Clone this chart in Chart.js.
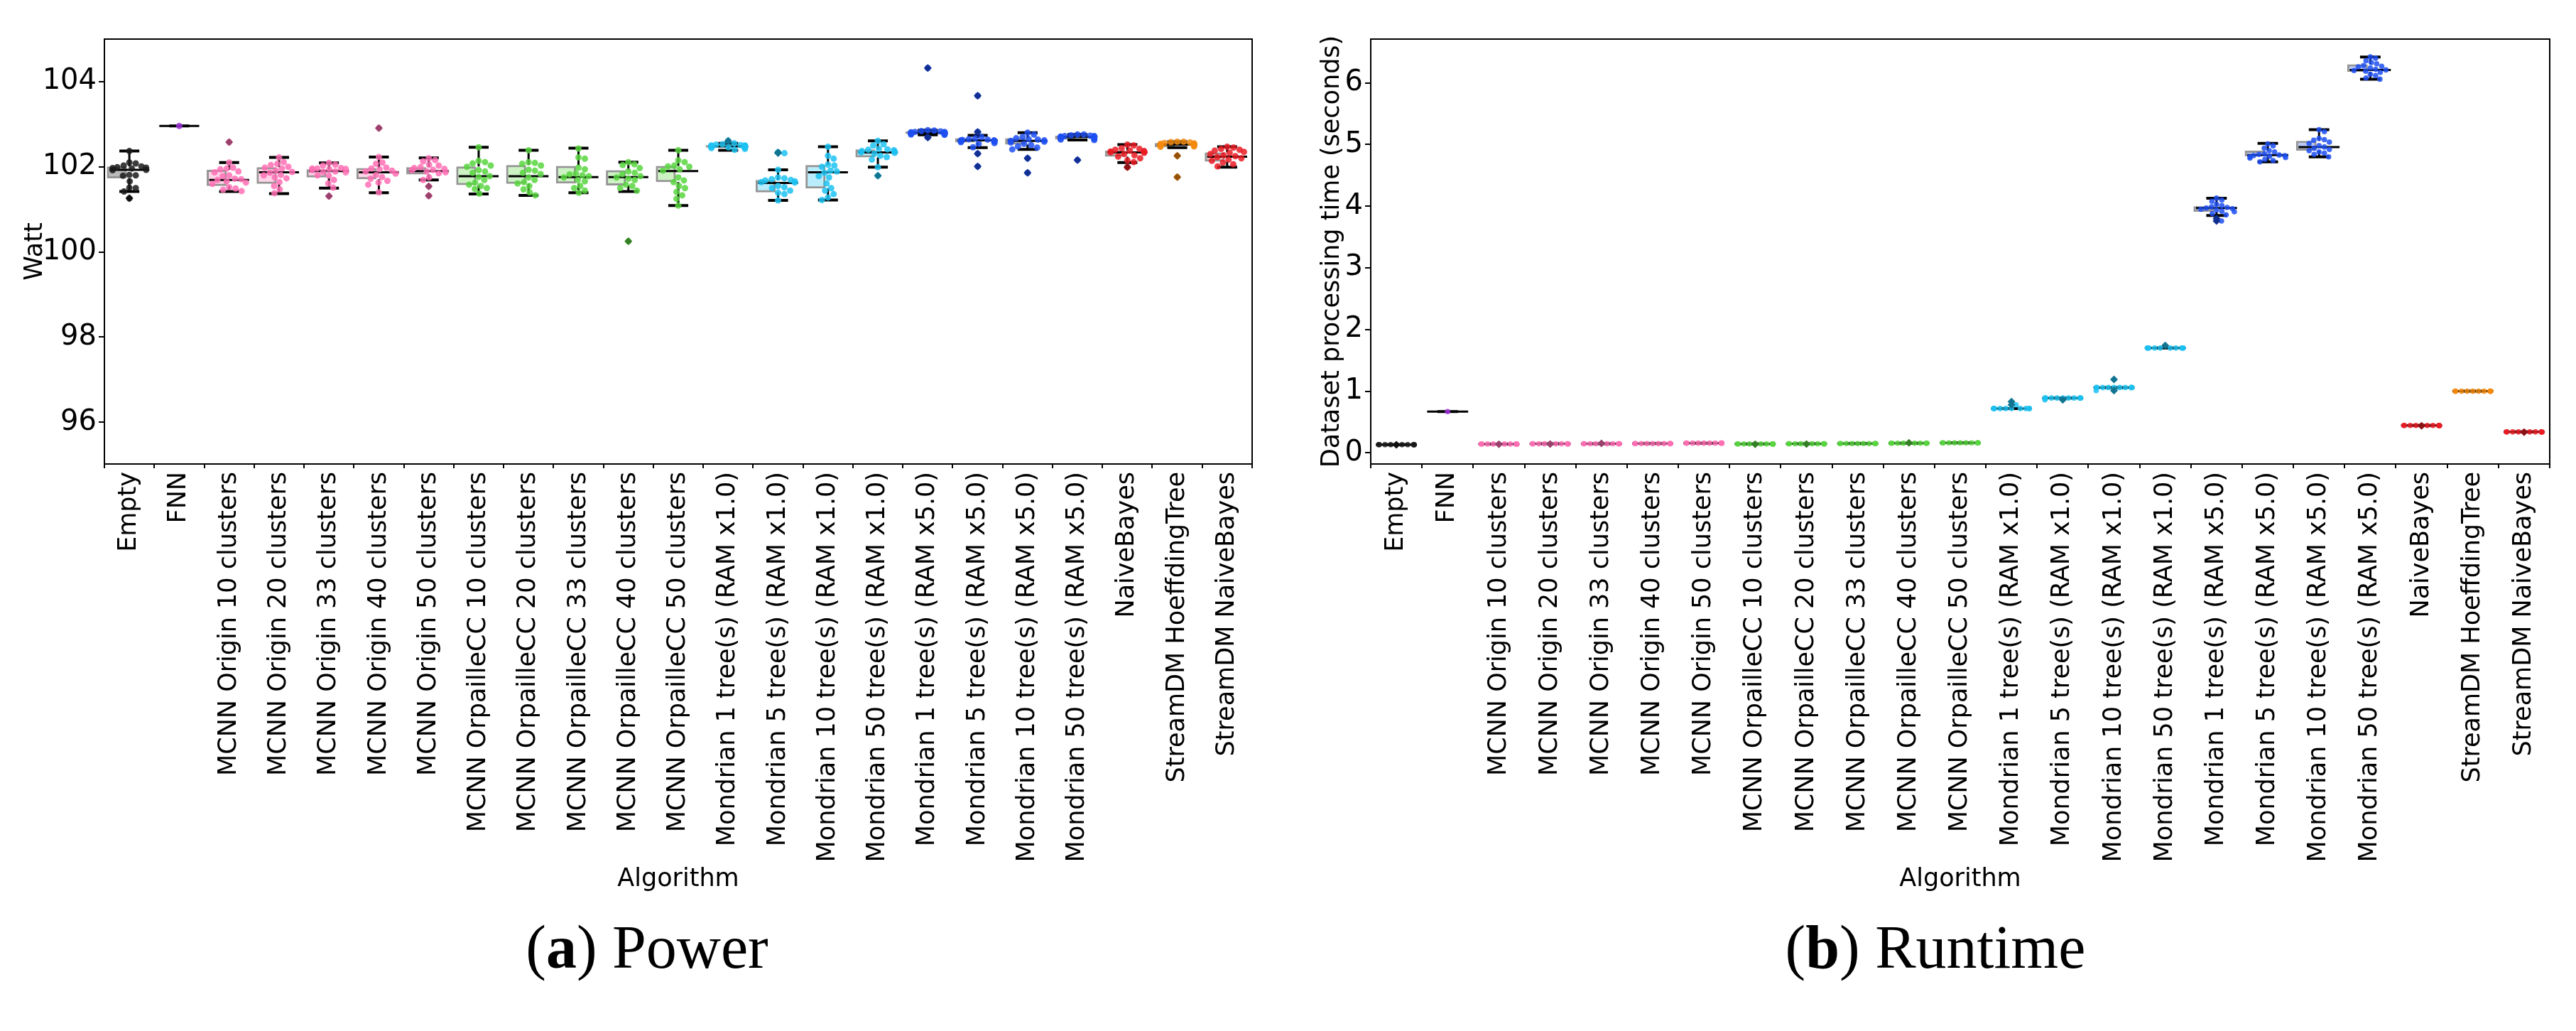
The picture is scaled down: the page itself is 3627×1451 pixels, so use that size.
<!DOCTYPE html>
<html>
<head>
<meta charset="utf-8">
<script src="https://cdn.jsdelivr.net/npm/chart.js@4.4.1/dist/chart.umd.min.js"></script>
<style>
  body { margin: 0; background: #fff; width: 3627px; height: 1451px; position: relative; overflow: hidden; }
  .panel { position: absolute; top: 0; height: 1300px; }
  .cap { position: absolute; top: 1290px; font-family: "Liberation Serif", serif; font-size: 86px; line-height: 86px; text-align: center; color: #000; }
</style>
</head>
<body>
<div class="panel" style="left:0;width:1800px"><canvas id="power"></canvas></div>
<div class="panel" style="left:1800px;width:1827px"><canvas id="runtime"></canvas></div>
<div class="cap" style="left:0;width:1822px">(<b>a</b>) Power</div>
<div class="cap" style="left:1823px;width:1804px">(<b>b</b>) Runtime</div>
<script>
// categories
const algorithms = [
  "Empty", "FNN",
  "MCNN Origin 10 clusters", "MCNN Origin 20 clusters", "MCNN Origin 33 clusters",
  "MCNN Origin 40 clusters", "MCNN Origin 50 clusters",
  "MCNN OrpailleCC 10 clusters", "MCNN OrpailleCC 20 clusters", "MCNN OrpailleCC 33 clusters",
  "MCNN OrpailleCC 40 clusters", "MCNN OrpailleCC 50 clusters",
  "Mondrian 1 tree(s) (RAM x1.0)", "Mondrian 5 tree(s) (RAM x1.0)",
  "Mondrian 10 tree(s) (RAM x1.0)", "Mondrian 50 tree(s) (RAM x1.0)",
  "Mondrian 1 tree(s) (RAM x5.0)", "Mondrian 5 tree(s) (RAM x5.0)",
  "Mondrian 10 tree(s) (RAM x5.0)", "Mondrian 50 tree(s) (RAM x5.0)",
  "NaiveBayes", "StreamDM HoeffdingTree", "StreamDM NaiveBayes"
];

// power (Watt): box statistics
const powerHi  = [102.37, 102.96, 102.10, 102.22, 102.09, 102.23, 102.21, 102.46, 102.39, 102.44, 102.11, 102.39, 102.55, 101.93, 102.47, 102.61, 102.86, 102.74, 102.80, 102.76, 102.52, 102.59, 102.47];
const powerQ3  = [102.01, 102.96, 101.93, 101.99, 101.94, 101.97, 101.99, 102.01, 102.04, 102.02, 101.92, 102.02, 102.51, 101.69, 102.04, 102.41, 102.83, 102.67, 102.67, 102.73, 102.38, 102.56, 102.34];
const powerMed = [101.93, 102.96, 101.69, 101.87, 101.90, 101.87, 101.90, 101.78, 101.78, 101.76, 101.76, 101.90, 102.48, 101.62, 101.87, 102.34, 102.80, 102.62, 102.61, 102.70, 102.34, 102.52, 102.24];
const powerQ1  = [101.73, 102.96, 101.55, 101.60, 101.75, 101.71, 101.82, 101.57, 101.60, 101.61, 101.56, 101.64, 102.45, 101.40, 101.49, 102.22, 102.77, 102.57, 102.52, 102.64, 102.24, 102.46, 102.12];
const powerLo  = [101.42, 102.96, 101.42, 101.37, 101.50, 101.39, 101.69, 101.36, 101.33, 101.39, 101.42, 101.09, 102.39, 101.21, 101.22, 101.99, 102.75, 102.45, 102.41, 102.63, 102.10, 102.45, 101.99];

// power (Watt): individual runs
const powerRuns = [
  [102.37, 102.10, 102.08, 102.03, 102.01, 101.99, 101.98, 101.97, 101.96, 101.93, 101.92, 101.81, 101.80, 101.79, 101.66, 101.51, 101.50, 101.42, 101.26],
  [102.96],
  [102.58, 102.10, 101.98, 101.96, 101.94, 101.89, 101.87, 101.80, 101.78, 101.72, 101.71, 101.69, 101.66, 101.63, 101.60, 101.52, 101.49, 101.46, 101.43],
  [102.22, 102.11, 102.07, 102.04, 102.00, 101.98, 101.96, 101.91, 101.88, 101.86, 101.81, 101.80, 101.75, 101.73, 101.64, 101.55, 101.47, 101.38],
  [102.09, 102.05, 102.03, 101.97, 101.96, 101.96, 101.95, 101.94, 101.92, 101.89, 101.88, 101.87, 101.80, 101.79, 101.69, 101.61, 101.51, 101.31],
  [102.91, 102.23, 102.10, 102.07, 101.98, 101.96, 101.94, 101.91, 101.89, 101.84, 101.81, 101.76, 101.72, 101.67, 101.63, 101.58, 101.40],
  [102.20, 102.16, 102.13, 102.05, 102.03, 101.99, 101.97, 101.95, 101.93, 101.92, 101.89, 101.87, 101.85, 101.75, 101.69, 101.54, 101.32],
  [102.46, 102.14, 102.11, 102.08, 102.03, 102.00, 101.92, 101.89, 101.86, 101.78, 101.76, 101.69, 101.63, 101.58, 101.55, 101.50, 101.48, 101.37],
  [102.39, 102.11, 102.09, 102.07, 102.03, 101.93, 101.91, 101.86, 101.83, 101.75, 101.69, 101.64, 101.61, 101.55, 101.47, 101.40, 101.33],
  [102.43, 102.22, 102.19, 101.98, 101.94, 101.84, 101.82, 101.80, 101.78, 101.75, 101.69, 101.66, 101.55, 101.50, 101.44, 101.39],
  [102.11, 102.06, 102.04, 101.97, 101.89, 101.86, 101.83, 101.78, 101.75, 101.72, 101.69, 101.58, 101.55, 101.50, 101.44, 100.25],
  [102.39, 102.15, 102.11, 102.03, 102.01, 102.00, 101.94, 101.91, 101.75, 101.68, 101.64, 101.55, 101.50, 101.41, 101.33, 101.25, 101.09],
  [102.61, 102.55, 102.53, 102.52, 102.51, 102.50, 102.50, 102.49, 102.49, 102.48, 102.48, 102.48, 102.47, 102.47, 102.46, 102.45, 102.44, 102.42, 102.40],
  [102.34, 102.32, 101.93, 101.75, 101.73, 101.71, 101.69, 101.68, 101.66, 101.64, 101.63, 101.55, 101.52, 101.50, 101.44, 101.39, 101.36, 101.21],
  [102.47, 102.26, 102.19, 102.05, 102.03, 102.00, 101.91, 101.89, 101.86, 101.78, 101.75, 101.61, 101.50, 101.44, 101.36, 101.28, 101.22],
  [102.61, 102.53, 102.50, 102.42, 102.41, 102.40, 102.39, 102.37, 102.36, 102.34, 102.33, 102.31, 102.26, 102.23, 102.17, 101.99, 101.79],
  [104.32, 102.86, 102.85, 102.84, 102.83, 102.82, 102.82, 102.81, 102.80, 102.80, 102.79, 102.79, 102.78, 102.78, 102.77, 102.76, 102.75, 102.69],
  [103.67, 102.82, 102.70, 102.67, 102.65, 102.64, 102.63, 102.62, 102.62, 102.61, 102.60, 102.59, 102.58, 102.56, 102.54, 102.46, 102.31, 102.01],
  [102.80, 102.76, 102.70, 102.67, 102.65, 102.64, 102.62, 102.61, 102.59, 102.57, 102.54, 102.51, 102.48, 102.45, 102.41, 102.20, 101.86],
  [102.76, 102.76, 102.74, 102.73, 102.72, 102.72, 102.71, 102.71, 102.70, 102.70, 102.69, 102.68, 102.67, 102.66, 102.64, 102.63, 102.16],
  [102.52, 102.50, 102.44, 102.42, 102.40, 102.38, 102.37, 102.36, 102.35, 102.34, 102.33, 102.30, 102.27, 102.24, 102.20, 102.15, 102.11, 101.99],
  [102.59, 102.59, 102.58, 102.57, 102.56, 102.55, 102.54, 102.53, 102.52, 102.52, 102.51, 102.50, 102.49, 102.48, 102.47, 102.26, 101.76],
  [102.47, 102.45, 102.42, 102.40, 102.38, 102.35, 102.33, 102.30, 102.27, 102.25, 102.23, 102.20, 102.17, 102.14, 102.10, 102.06, 102.01]
];
const powerTicks = [96, 98, 100, 102, 104];

// runtime (seconds): box statistics
const timeHi  = [0.134, 0.67, 0.144, 0.147, 0.149, 0.150, 0.158, 0.145, 0.148, 0.152, 0.157, 0.163, 0.72, 0.89, 1.06, 1.70, 4.13, 5.02, 5.24, 6.42, 0.445, 1.00, 0.34];
const timeQ3  = [0.134, 0.67, 0.144, 0.147, 0.149, 0.150, 0.158, 0.145, 0.148, 0.152, 0.157, 0.163, 0.72, 0.89, 1.06, 1.70, 4.00, 4.90, 5.06, 6.30, 0.445, 1.00, 0.34];
const timeMed = [0.134, 0.67, 0.144, 0.147, 0.149, 0.150, 0.158, 0.145, 0.148, 0.152, 0.157, 0.163, 0.72, 0.89, 1.06, 1.70, 3.97, 4.83, 4.96, 6.21, 0.445, 1.00, 0.34];
const timeQ1  = [0.134, 0.67, 0.144, 0.147, 0.149, 0.150, 0.158, 0.145, 0.148, 0.152, 0.157, 0.163, 0.72, 0.89, 1.06, 1.70, 3.91, 4.81, 4.90, 6.18, 0.445, 1.00, 0.34];
const timeLo  = [0.134, 0.67, 0.144, 0.147, 0.149, 0.150, 0.158, 0.145, 0.148, 0.152, 0.157, 0.163, 0.72, 0.89, 1.06, 1.70, 3.85, 4.72, 4.80, 6.06, 0.445, 1.00, 0.34];

// runtime (seconds): individual runs
const timeRuns = [
  [0.134, 0.134, 0.134, 0.134, 0.134, 0.134, 0.134, 0.134, 0.134, 0.131],
  [0.67],
  [0.144, 0.144, 0.144, 0.144, 0.144, 0.144, 0.144, 0.144, 0.144, 0.140],
  [0.147, 0.147, 0.147, 0.147, 0.147, 0.147, 0.147, 0.147, 0.147, 0.143],
  [0.149, 0.149, 0.149, 0.149, 0.149, 0.149, 0.149, 0.149, 0.149, 0.153],
  [0.150, 0.150, 0.150, 0.150, 0.150, 0.150, 0.150, 0.150, 0.150, 0.150],
  [0.158, 0.158, 0.158, 0.158, 0.158, 0.158, 0.158, 0.158, 0.158, 0.158],
  [0.145, 0.145, 0.145, 0.145, 0.145, 0.145, 0.145, 0.145, 0.145, 0.141],
  [0.148, 0.148, 0.148, 0.148, 0.148, 0.148, 0.148, 0.148, 0.148, 0.144],
  [0.152, 0.152, 0.152, 0.152, 0.152, 0.152, 0.152, 0.152, 0.152, 0.152],
  [0.157, 0.157, 0.157, 0.157, 0.157, 0.157, 0.157, 0.157, 0.157, 0.162],
  [0.163, 0.163, 0.163, 0.163, 0.163, 0.163, 0.163, 0.163, 0.163, 0.163],
  [0.72, 0.72, 0.72, 0.72, 0.72, 0.72, 0.72, 0.72, 0.72, 0.72, 0.78, 0.83],
  [0.89, 0.89, 0.89, 0.89, 0.89, 0.89, 0.89, 0.89, 0.89, 0.89, 0.86],
  [1.06, 1.06, 1.06, 1.06, 1.06, 1.06, 1.06, 1.06, 1.06, 1.06, 1.19, 1.01],
  [1.70, 1.70, 1.70, 1.70, 1.70, 1.70, 1.70, 1.70, 1.70, 1.70, 1.74],
  [4.13, 4.10, 4.08, 4.03, 4.01, 3.99, 3.98, 3.97, 3.96, 3.95, 3.94, 3.92, 3.91, 3.88, 3.86, 3.80, 3.76],
  [5.01, 4.98, 4.94, 4.90, 4.88, 4.85, 4.84, 4.83, 4.82, 4.82, 4.81, 4.80, 4.79, 4.78, 4.76, 4.74, 4.72],
  [5.24, 5.21, 5.10, 5.08, 5.07, 5.04, 5.02, 4.98, 4.96, 4.94, 4.92, 4.90, 4.88, 4.86, 4.84, 4.80],
  [6.42, 6.40, 6.36, 6.33, 6.31, 6.28, 6.27, 6.26, 6.24, 6.22, 6.21, 6.20, 6.19, 6.17, 6.14, 6.12, 6.08, 6.06],
  [0.445, 0.445, 0.445, 0.445, 0.445, 0.445, 0.445, 0.445, 0.445, 0.440],
  [1.00, 1.00, 1.00, 1.00, 1.00, 1.00, 1.00, 1.00, 1.00, 1.00],
  [0.34, 0.34, 0.34, 0.34, 0.34, 0.34, 0.34, 0.34, 0.34, 0.335]
];
const timeTicks = [0, 1, 2, 3, 4, 5, 6];

// colours per algorithm family
const palette = [
  "#1a1a1a", "#a032dc",
  "#ff6eb4", "#ff6eb4", "#ff6eb4", "#ff6eb4", "#ff6eb4",
  "#58d640", "#58d640", "#58d640", "#58d640", "#58d640",
  "#1cc2f2", "#1cc2f2", "#1cc2f2", "#1cc2f2",
  "#1d4ff2", "#1d4ff2", "#1d4ff2", "#1d4ff2",
  "#ea1c24", "#f5890c", "#ea1c24"
];

function rgba(hex, a) {
  const n = parseInt(hex.slice(1), 16);
  return `rgba(${n >> 16},${(n >> 8) & 255},${n & 255},${a})`;
}
function darker(hex) {
  const n = parseInt(hex.slice(1), 16);
  const f = 0.6;
  return `rgb(${Math.round((n >> 16) * f)},${Math.round(((n >> 8) & 255) * f)},${Math.round((n & 255) * f)})`;
}

const frame = {
  id: "frame",
  afterDraw(chart) {
    const { ctx, chartArea: a } = chart;
    ctx.save();
    ctx.strokeStyle = "#000";
    ctx.lineWidth = 2;
    ctx.strokeRect(a.left, a.top, a.right - a.left, a.bottom - a.top);
    ctx.restore();
  }
};

function drawBoxChart(id, s) {
  const n = algorithms.length;
  const whisk = [], caps = [], meds = [];
  for (let i = 0; i < n; i++) {
    whisk.push({ x: i, y: s.q3[i] }, { x: i, y: s.hi[i] }, { x: i, y: null },
               { x: i, y: s.q1[i] }, { x: i, y: s.lo[i] }, { x: i, y: null });
    caps.push({ x: i - 0.2, y: s.hi[i] }, { x: i + 0.2, y: s.hi[i] }, { x: i, y: null },
              { x: i - 0.2, y: s.lo[i] }, { x: i + 0.2, y: s.lo[i] }, { x: i, y: null });
    meds.push({ x: i - 0.4, y: s.med[i] }, { x: i + 0.4, y: s.med[i] }, { x: i, y: null });
  }
  const seg = (data, w) => ({
    type: "line", xAxisID: "xl", data, borderColor: "#000", borderWidth: w,
    pointRadius: 0, spanGaps: false, order: 4
  });

  const chart = new Chart(document.getElementById(id), {
    type: "bar",
    data: {
      labels: algorithms,
      datasets: [
        {
          data: algorithms.map((_, i) => [s.q1[i], s.q3[i]]),
          backgroundColor: palette.map(c => rgba(c, 0.3)),
          borderColor: "rgba(130,130,130,0.85)", borderWidth: 3, borderSkipped: false,
          barPercentage: 0.8, categoryPercentage: 1, order: 5
        },
        seg(whisk, 3), seg(caps, 4), seg(meds, 3),
        { type: "scatter", xAxisID: "xl", data: [], pointRadius: s.dot, borderWidth: 0, order: 2 },
        { type: "scatter", xAxisID: "xl", data: [], pointStyle: "rectRot", pointRadius: 5.5, borderWidth: 0, order: 1 }
      ]
    },
    options: {
      responsive: true, maintainAspectRatio: false, animation: false,
      layout: { padding: { top: 55, right: 37, left: 0, bottom: 0 } },
      plugins: { legend: { display: false }, tooltip: { enabled: false } },
      scales: {
        x: {
          type: "category", offset: true,
          grid: { drawOnChartArea: false, tickLength: 6, color: "#000", lineWidth: 2 },
          border: { display: false },
          ticks: { autoSkip: false, minRotation: 90, maxRotation: 90, padding: 5, color: "#000",
                   font: { size: 35, family: "DejaVu Sans" } },
          title: { display: true, text: "Algorithm", color: "#000", padding: { top: 0, bottom: 41 },
                   font: { size: 35, family: "DejaVu Sans" } },
          afterFit: sc => { sc.height = 647; }
        },
        // helper axis spanning the plot width, used to place marks between category centres
        xl: {
          type: "linear", position: "bottom", min: -0.5, max: n - 0.5, offset: false,
          grid: { display: false, offset: false }, border: { display: false },
          ticks: { display: false }, title: { display: false },
          afterFit: sc => { sc.height = 0; }
        },
        y: {
          type: "linear", min: s.min, max: s.max,
          grid: { drawOnChartArea: false, tickLength: 8, color: "#000", lineWidth: 2 },
          border: { display: false },
          ticks: { padding: 3, color: "#000", font: { size: 40, family: "DejaVu Sans" } },
          afterBuildTicks: sc => { sc.ticks = s.ticks.map(v => ({ value: v })); },
          title: { display: true, text: s.title, color: "#000", padding: { top: s.titlePad, bottom: 0 },
                   font: { size: 35, family: "DejaVu Sans" } },
          afterFit: sc => { sc.width = s.axisW; }
        }
      }
    },
    plugins: [frame]
  });

  // beeswarm placement in pixel space using the chart's own scales
  const ys = chart.scales.y, xs = chart.scales.xl;
  const cat = xs.getPixelForValue(1) - xs.getPixelForValue(0);
  const d = 2 * s.dot, gutter = 0.4 * cat - s.dot;
  const pts = [], ptCol = [], fl = [], flCol = [];
  s.runs.forEach((vals, i) => {
    const placed = [];
    vals.slice().sort((a, b) => b - a).forEach(v => {
      const py = ys.getPixelForValue(v);
      let off = 0;
      for (let k = 0; k < 2000; k++) {
        const c = (k % 2 ? 1 : -1) * Math.ceil(k / 2) * 0.5;
        if (placed.every(p => (p.x - c) ** 2 + (p.y - py) ** 2 >= d * d - 0.01)) { off = c; break; }
      }
      placed.push({ x: off, y: py });
      const shown = Math.max(-gutter, Math.min(gutter, off));
      pts.push({ x: i + shown / cat, y: v });
      ptCol.push(rgba(palette[i], 0.85));
      if (v > s.hi[i] + 1e-9 || v < s.lo[i] - 1e-9) {
        fl.push({ x: i, y: v });
        flCol.push(darker(palette[i]));
      }
    });
  });
  chart.data.datasets[4].data = pts;
  chart.data.datasets[4].pointBackgroundColor = ptCol;
  chart.data.datasets[5].data = fl;
  chart.data.datasets[5].pointBackgroundColor = flCol;
  chart.update("none");
}

drawBoxChart("power", {
  hi: powerHi, q3: powerQ3, med: powerMed, q1: powerQ1, lo: powerLo, runs: powerRuns,
  ticks: powerTicks, min: 95.02, max: 105.0, title: "Watt", titlePad: 29, axisW: 147, dot: 4.5
});
drawBoxChart("runtime", {
  hi: timeHi, q3: timeQ3, med: timeMed, q1: timeQ1, lo: timeLo, runs: timeRuns,
  ticks: timeTicks, min: -0.18, max: 6.71, title: "Dataset processing time (seconds)", titlePad: 55, axisW: 130, dot: 3.8
});
</script>
</body>
</html>
